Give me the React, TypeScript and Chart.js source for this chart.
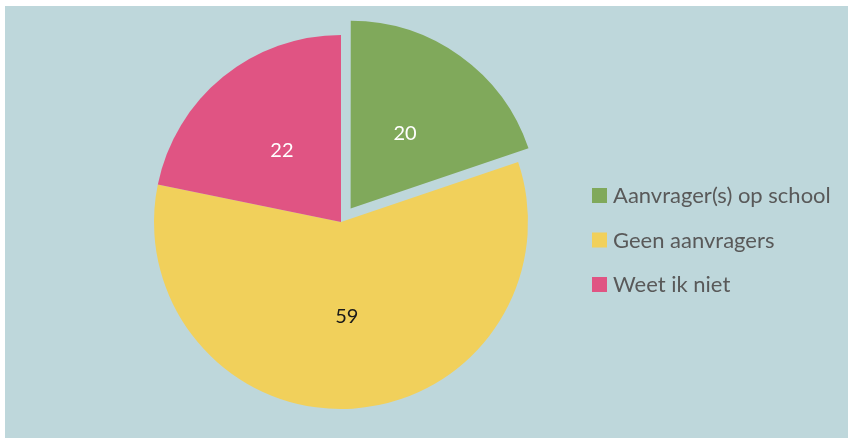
import React, { useEffect, useRef } from "react";
import { Chart, registerables } from "chart.js";

Chart.register(...registerables);

const categories = ["Aanvrager(s) op school", "Geen aanvragers", "Weet ik niet"];
const values = [20, 59, 22];
const colors = ["#80a95b", "#f1d05b", "#e05483"];
const labelColors = ["#ffffff", "#1a1a1a", "#ffffff"];
// Chart.js draws arcs shifted by offset / 4
const offsets = [66, 0, 0];

const valueLabelPlugin = {
  id: "valueLabels",
  afterDatasetsDraw(chart: any) {
    const ctx = chart.ctx;
    const meta = chart.getDatasetMeta(0);
    ctx.save();
    ctx.font = "20px Lato";
    ctx.textAlign = "center";
    ctx.textBaseline = "middle";
    meta.data.forEach((arc: any, i: number) => {
      const p = arc.getProps(["x", "y", "startAngle", "endAngle", "outerRadius"], true);
      const mid = (p.startAngle + p.endAngle) / 2;
      const r = p.outerRadius / 2 + (arc.options.offset || 0) / 4;
      ctx.fillStyle = labelColors[i];
      ctx.fillText(String(values[i]), p.x + Math.cos(mid) * r, p.y + Math.sin(mid) * r + 1);
    });
    ctx.restore();
  },
};

const legendPlugin = {
  id: "customLegend",
  afterDraw(chart: any) {
    const ctx = chart.ctx;
    ctx.save();
    ctx.font = "22px Lato";
    ctx.textAlign = "left";
    ctx.textBaseline = "alphabetic";
    const x0 = 587;
    const y0 = 182;
    const step = 44.5;
    const box = 15;
    categories.forEach((c, i) => {
      const y = y0 + i * step;
      ctx.fillStyle = colors[i];
      ctx.fillRect(x0, y, box, box);
      ctx.fillStyle = "#595959";
      ctx.fillText(c, x0 + box + 6, y + box);
    });
    ctx.restore();
  },
};

export default function App() {
  const ref = useRef<HTMLCanvasElement>(null);
  useEffect(() => {
    if (!ref.current) return;
    const chart = new Chart(ref.current, {
      type: "pie",
      data: {
        labels: categories,
        datasets: [
          {
            data: values,
            backgroundColor: colors,
            borderWidth: 0,
            offset: offsets,
          },
        ],
      },
      options: {
        animation: false,
        responsive: false,
        radius: 187,
        layout: { padding: { left: 0, right: 171, top: 0, bottom: 0 } },
        plugins: {
          legend: { display: false },
          tooltip: { enabled: false },
        },
      },
      plugins: [valueLabelPlugin, legendPlugin],
    });
    return () => chart.destroy();
  }, []);
  return (
    <div
      style={{
        position: "absolute",
        left: 5,
        top: 6,
        width: 843,
        height: 432,
        background: "#bed7db",
      }}
    >
      <canvas ref={ref} width={843} height={432} style={{ display: "block" }} />
    </div>
  );
}
